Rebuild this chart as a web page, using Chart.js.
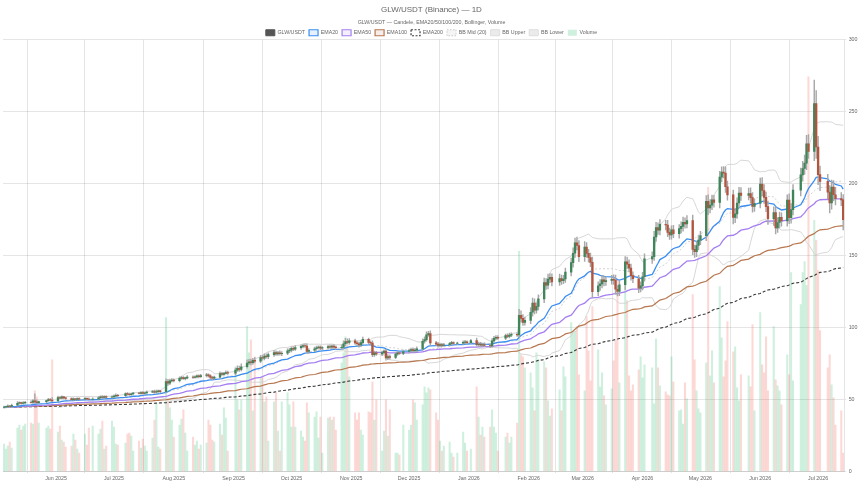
<!DOCTYPE html>
<html>
<head>
<meta charset="utf-8">
<title>GLW/USDT (Binance) — 1D</title>
<script src="https://cdn.jsdelivr.net/npm/chart.js@4.4.1/dist/chart.umd.min.js"></script>
<style>
  html, body { margin: 0; padding: 0; background: #fff; }
  #wrap { width: 860px; height: 484px; }
</style>
</head>
<body>
<div id="wrap"><canvas id="grafico" width="860" height="484"></canvas></div>
<script>
/* ============================================================
   DATI — candele giornaliere GLW/USDT (solo giorni di borsa)
   ============================================================ */
const START_DATE = '2025-05-05';
const END_DATE   = '2026-07-14';
const HOLIDAYS = [
  '2025-05-26','2025-06-19','2025-07-04','2025-09-01','2025-11-27','2025-12-25',
  '2026-01-01','2026-01-19','2026-02-16','2026-04-03','2026-05-25','2026-06-19','2026-07-03'
];
const MONTHS = ['Jan','Feb','Mar','Apr','May','Jun','Jul','Aug','Sep','Oct','Nov','Dec'];
const FIRST_OPEN = 44.3;

// chiusure, una riga per settimana (lun-ven)
const closes = [
  44.6, 44.9, 45.3, 45.0, 45.8,   47.2, 47.6, 47.1, 47.5, 47.9,   47.8, 48.9, 48.2, 47.6, 48.3,
  49.0, 49.8, 49.4, 48.9,         51.2, 50.8, 51.6, 50.9, 50.5,   49.7, 50.3, 49.8, 50.4, 50.1,
  50.6, 50.2, 49.9, 50.1,         51.0, 51.6, 51.2, 51.9, 51.4,   51.7, 52.2, 52.8, 52.4,
  53.9, 53.5, 53.1, 53.8, 54.2,   54.1, 54.6, 54.0, 54.4, 55.0,   55.4, 54.9, 55.3, 55.8, 55.2,
  62.3, 61.2, 62.8, 63.4, 63.0,   64.5, 65.0, 64.3, 64.9, 65.5,   65.2, 65.6, 66.2, 65.7, 66.5,
  66.9, 66.2, 65.1, 64.6, 65.4,   67.8, 67.3, 68.0, 68.6, 68.1,   70.2, 71.5, 70.8, 72.6,
  75.2, 76.0, 75.4, 77.1, 76.5,   79.0, 78.5, 80.1, 79.6, 81.0,   82.5, 81.6, 82.3, 81.7, 82.0,
  83.6, 84.2, 85.4, 84.8, 85.9,   86.8, 87.4, 87.0, 83.2, 84.1,   85.1, 85.8, 86.2, 85.5, 85.9,
  86.7, 86.2, 86.9, 86.3, 85.8,   86.1, 88.6, 90.1, 89.5, 90.6,   89.2, 88.6, 87.7, 89.4, 91.6,
  89.6, 89.1, 81.0, 82.3, 81.5,   82.4, 83.5, 78.8, 79.6, 79.1,   81.4, 82.3, 81.9, 83.2,
  83.9, 84.5, 83.7, 84.2, 85.0,   90.3, 91.5, 94.8, 95.6, 89.2,   88.3, 87.4, 88.0, 87.5, 87.9,
  88.7, 89.4, 88.9, 89.0,         89.6, 90.0, 89.4, 90.8,         87.9, 88.4, 87.6, 88.1, 87.4,
  87.0, 90.6, 92.4, 93.1, 92.5,   94.3, 93.7, 94.6, 95.2,         94.7, 108.4, 106.2, 103.5, 104.8,
  110.5, 116.8, 112.0, 114.6, 119.8,   131.2, 129.4, 133.5, 134.8, 131.6,   134.0, 132.5, 133.6, 138.4,
  145.0, 151.5, 158.8, 156.9, 149.2,   155.8, 151.4, 148.6, 145.2, 124.8,   128.9, 130.2, 133.0, 131.8, 132.6,
  133.4, 132.8, 126.5, 124.9, 129.6,   145.6, 143.9, 141.2, 136.0, 133.8,   127.2, 128.8, 135.2, 147.6,
  149.2, 162.8, 169.4, 167.5, 171.6,   171.2, 166.0, 164.3, 167.8, 165.2,   168.6, 170.2, 173.1, 172.0, 174.3,
  154.2, 152.6, 156.9, 160.7, 163.8,   187.6, 183.1, 185.0, 188.6, 186.9,   204.5, 208.0, 207.2, 197.8, 192.1,
  176.4, 178.9, 186.5, 193.4, 191.8,   193.0, 190.2, 184.1, 186.2,          199.6, 195.2, 190.4, 184.0, 175.5,
  179.8, 169.2, 172.9, 176.5, 174.0,   188.5, 176.3, 181.8, 195.4,          206.0, 210.5, 214.2, 227.6, 222.4,
  255.6, 225.4, 206.2, 201.5,          194.0, 186.6, 197.6, 192.2, 189.5,   188.6, 174.8
];

// ombra superiore (sopra il corpo)
const wickUp = [
  0.6, 0.4, 0.8, 0.5, 0.9,   1.1, 0.6, 0.5, 0.8, 0.6,   1.0, 0.9, 4.8, 1.2, 0.5,
  0.5, 0.9, 0.6, 1.8,        1.0, 0.6, 0.8, 0.5, 0.4,   0.5, 0.7, 0.4, 0.6, 0.5,
  0.6, 0.4, 0.7, 0.9,        0.8, 0.7, 0.9, 0.5, 0.4,   0.6, 0.8, 1.0, 0.7,
  0.6, 0.8, 0.7, 0.5, 0.6,   0.6, 0.5, 0.7, 0.4, 0.6,   0.8, 0.9, 1.1, 0.6, 0.4,
  1.9, 1.6, 1.2, 1.0, 0.8,   1.1, 0.9, 0.7, 0.6, 1.0,   0.7, 0.6, 0.8, 0.7, 0.9,
  1.1, 0.8, 1.0, 0.9, 0.7,   1.2, 0.9, 0.8, 1.2, 1.0,   1.4, 1.8, 1.5, 2.0,
  2.2, 1.8, 2.0, 1.4, 1.9,   1.6, 1.7, 1.4, 1.5, 1.2,   1.4, 1.2, 1.0, 1.4, 1.1,
  1.5, 1.2, 1.1, 1.3, 1.5,   1.0, 0.9, 1.1, 1.6, 1.2,   1.1, 1.2, 0.9, 1.0, 0.8,
  1.0, 1.2, 1.0, 1.1, 0.9,   1.8, 2.0, 2.2, 1.9, 1.6,   1.3, 1.0, 1.2, 1.4, 1.6,
  0.9, 1.1, 1.6, 1.2, 1.0,   1.1, 0.9, 1.2, 1.5, 1.3,   0.9, 0.8, 0.7, 1.0,
  1.0, 1.1, 1.3, 1.2, 1.4,   1.8, 1.9, 2.0, 1.6, 1.9,   1.1, 1.2, 1.0, 0.8, 0.9,
  0.9, 0.8, 0.6, 0.7,        1.0, 0.9, 0.7, 0.9,        1.8, 1.4, 1.2, 1.0, 1.1,
  1.2, 1.6, 1.4, 1.2, 1.1,   1.0, 1.2, 1.4, 1.0,        1.1, 4.2, 3.0, 2.6, 2.4,
  3.2, 3.6, 3.0, 2.4, 2.8,   3.0, 2.8, 3.6, 2.6, 2.4,   3.0, 2.4, 2.6, 2.8,
  3.2, 3.8, 3.2, 4.0, 3.4,   3.8, 3.2, 2.8, 3.0, 3.6,   2.8, 3.0, 3.2, 2.8, 2.6,
  2.8, 3.2, 3.6, 2.6, 2.8,   3.6, 3.2, 3.0, 2.8, 2.6,   2.4, 2.8, 3.0, 3.6,
  3.4, 4.0, 3.6, 3.2, 3.4,   2.8, 3.2, 3.0, 2.8, 3.2,   2.8, 3.2, 3.6, 3.0, 3.4,
  3.8, 3.0, 2.8, 3.2, 3.0,   4.0, 4.6, 3.8, 3.4, 3.2,   4.0, 3.6, 3.8, 4.4, 4.0,
  3.4, 3.8, 3.6, 4.0, 3.8,   3.8, 4.0, 3.6, 3.2,        4.2, 4.6, 4.0, 3.6, 3.8,
  4.0, 3.8, 3.4, 3.6, 3.2,   3.6, 4.4, 4.2, 3.8,        4.8, 5.0, 5.6, 6.0, 6.4,
  16.4, 9.0, 7.5, 6.0,       5.0, 4.6, 4.8, 4.4, 5.2,   4.2, 3.8
];

// ombra inferiore (sotto il corpo)
const wickDown = [
  0.5, 0.7, 0.4, 0.8, 0.6,   0.4, 0.7, 0.6, 0.5, 0.4,   0.5, 0.7, 0.6, 0.9, 0.5,
  0.6, 0.4, 0.8, 0.6,        0.4, 0.6, 0.5, 0.7, 0.6,   0.6, 0.5, 0.7, 0.6, 0.4,
  0.6, 0.5, 0.4, 0.5,        0.6, 0.5, 0.4, 0.6, 0.5,   0.6, 0.5, 0.7, 0.6,
  0.7, 0.6, 0.5, 0.4, 0.6,   0.4, 0.6, 0.5, 0.7, 0.4,   0.5, 0.7, 0.6, 0.5, 0.7,
  0.8, 1.6, 1.0, 0.8, 0.9,   1.0, 0.8, 0.6, 0.9, 0.7,   0.8, 0.6, 0.7, 0.9, 0.6,
  0.9, 0.8, 1.0, 1.2, 0.7,   0.9, 0.7, 0.8, 0.6, 0.9,   1.2, 0.9, 1.4, 1.1,
  1.0, 1.2, 1.5, 1.1, 1.2,   1.1, 1.3, 1.2, 1.0, 1.4,   1.3, 1.1, 1.2, 1.0, 1.4,
  1.0, 1.2, 1.3, 1.1, 0.9,   1.2, 1.1, 0.9, 1.4, 1.3,   1.0, 1.2, 0.8, 1.1, 0.9,
  1.1, 0.9, 1.0, 0.9, 1.2,   1.3, 1.2, 1.4, 1.0, 1.2,   1.0, 1.2, 1.4, 1.1, 1.0,
  1.1, 1.0, 1.4, 1.2, 1.1,   1.2, 1.1, 1.6, 1.2, 1.3,   0.9, 1.0, 0.8, 0.9,
  0.9, 1.0, 1.2, 0.9, 1.1,   1.1, 1.3, 1.2, 1.0, 1.8,   1.0, 1.1, 0.9, 1.0, 0.8,
  0.9, 0.7, 0.8, 0.7,        0.8, 0.7, 0.9, 0.7,        1.0, 1.2, 0.9, 1.0, 0.8,
  1.2, 0.9, 1.0, 1.1, 0.9,   1.0, 0.9, 1.1, 1.0,        1.0, 1.6, 2.4, 2.2, 2.0,
  2.2, 2.8, 2.6, 2.2, 2.4,   2.6, 3.0, 2.6, 2.4, 2.8,   2.4, 2.6, 2.2, 2.4,
  2.6, 3.2, 2.8, 3.0, 3.6,   3.4, 2.8, 3.2, 3.0, 4.2,   2.8, 3.2, 2.8, 3.0, 2.6,
  2.6, 3.0, 3.4, 3.0, 2.8,   3.4, 3.0, 2.6, 3.2, 2.8,   3.0, 2.6, 2.8, 3.0,
  3.2, 2.6, 3.0, 2.8, 3.2,   3.4, 3.0, 3.2, 3.0, 2.8,   3.2, 3.0, 3.4, 3.0, 2.8,
  3.6, 4.0, 3.4, 3.0, 3.2,   3.6, 4.8, 3.6, 3.2, 3.4,   3.8, 3.4, 3.2, 4.0, 3.6,
  4.4, 3.6, 3.2, 3.4, 3.6,   3.2, 3.8, 4.0, 3.4,        3.2, 3.8, 4.2, 3.6, 4.0,
  4.6, 4.2, 3.2, 3.8, 3.6,   3.6, 4.2, 3.8, 3.6,        4.0, 4.4, 4.2, 4.6, 5.0,
  6.4, 8.0, 7.0, 6.4,        4.6, 7.0, 4.4, 4.2, 4.4,   4.0, 7.0
];

// volume giornaliero (migliaia)
const volumes = [
  27, 22, 25, 29, 23,    43, 46, 41, 45, 47,    48, 47, 80, 74, 48,
  43, 45, 42, 111,       39, 45, 31, 29, 24,    25, 37, 31, 22, 18,
  37, 26, 43, 45,        37, 42, 50, 22, 25,    50, 44, 27, 26,
  28, 37, 38, 35, 20,    30, 23, 32, 25, 20,    33, 51, 68, 24, 22,
  153, 71, 63, 51, 34,   46, 52, 61, 38, 20,    34, 26, 30, 22, 26,
  28, 51, 46, 31, 29,    47, 36, 63, 53, 20,    104, 71, 61, 71,
  144, 118, 131, 60, 114,  93, 93, 69, 74, 30,  69, 78, 40, 20, 69,
  78, 66, 44, 69, 44,    40, 34, 30, 68, 58,    54, 59, 33, 54, 18,
  53, 54, 51, 54, 41,    108, 118, 134, 126, 94,  58, 51, 58, 41, 36,
  59, 58, 89, 51, 71,    20, 40, 71, 35, 61,    18, 18, 16, 46,
  41, 46, 71, 68, 51,    66, 84, 78, 83, 81,    58, 51, 30, 20, 25,
  29, 18, 14, 18,        39, 28, 20, 22,        84, 54, 36, 44, 34,
  44, 61, 44, 38, 20,    34, 38, 28, 34,        48, 219, 116, 114, 103,
  98, 83, 60, 118, 111,  109, 103, 70, 55, 62,  81, 60, 104, 94,
  148, 138, 139, 144, 96,  80, 154, 120, 90, 164,  121, 84, 98, 75, 66,
  82, 110, 130, 191, 88,   191, 170, 95, 80, 86,   101, 114, 93, 106,
  103, 67, 132, 103, 85,   79, 76, 75, 114, 89,    60, 61, 47, 88, 72,
  176, 111, 80, 62, 58,    108, 283, 95, 120, 88,  184, 133, 94, 110, 149,
  119, 124, 83, 70, 96,    95, 84, 146, 60,        158, 106, 98, 134, 80,
  144, 91, 85, 80, 66,     116, 96, 198, 90,       166, 198, 209, 185, 393,
  250, 230, 200, 140,      103, 116, 86, 73, 46,   60, 18
];

/* ============================================================
   CALENDARIO E INDICATORI
   ============================================================ */
const days = [];
for (let d = new Date(START_DATE + 'T00:00:00Z'); d <= new Date(END_DATE + 'T00:00:00Z'); d.setUTCDate(d.getUTCDate() + 1)) {
  days.push(d.toISOString().slice(0, 10));
}
const tradingDays = days.filter(d => {
  const wd = new Date(d + 'T00:00:00Z').getUTCDay();
  return wd !== 0 && wd !== 6 && !HOLIDAYS.includes(d);
});
const pos = tradingDays.map(d => days.indexOf(d));
const monthStarts = days.map((d, i) => d.endsWith('-01') ? i : -1).filter(i => i >= 0);

// porta una serie dei giorni di borsa sull'asse di calendario
function spread(arr) {
  const out = days.map(() => null);
  arr.forEach((v, k) => { out[pos[k]] = v; });
  return out;
}

function ema(values, n) {
  const k = 2 / (n + 1);
  const out = [];
  values.forEach((v, i) => out.push(i === 0 ? v : v * k + out[i - 1] * (1 - k)));
  return out;
}

function bollinger(values, n, mult) {
  const mid = [], up = [], low = [];
  values.forEach((_, i) => {
    if (i < n - 1) { mid.push(null); up.push(null); low.push(null); return; }
    const win = values.slice(i - n + 1, i + 1);
    const m = win.reduce((a, b) => a + b, 0) / n;
    const sd = Math.sqrt(win.reduce((a, b) => a + (b - m) * (b - m), 0) / n);
    mid.push(m); up.push(m + mult * sd); low.push(m - mult * sd);
  });
  return { mid, up, low };
}

const opens = closes.map((c, i) => i === 0 ? FIRST_OPEN : closes[i - 1]);
const isUp  = closes.map((c, i) => c >= opens[i]);
const bodies = spread(closes.map((c, i) => [opens[i], c]));
const wicks  = spread(closes.map((c, i) => [Math.min(opens[i], c) - wickDown[i], Math.max(opens[i], c) + wickUp[i]]));
const bodyColors = spread(isUp.map(u => u ? '#3f855a' : '#b2553f'));
const volColors  = spread(isUp.map(u => u ? 'rgba(38,186,104,0.22)' : 'rgba(240,80,70,0.22)'));

const bb = bollinger(closes, 20, 2);

/* ============================================================
   GRAFICO
   ============================================================ */
// la legenda di Chart.js lascia troppo spazio sotto: lo accorcio
const legendGap = {
  id: 'legendGap',
  beforeInit(chart) {
    const fit = chart.legend.fit;
    chart.legend.fit = function () { fit.bind(chart.legend)(); this.height -= 6; };
  }
};

function buildLegend(chart) {
  return chart.data.datasets
    .map((ds, i) => ({ ds, i }))
    .filter(o => o.ds.legend)
    .map(o => ({
      text: o.ds.label,
      fillStyle: o.ds.legend.fill,
      strokeStyle: o.ds.legend.stroke,
      lineWidth: o.ds.legend.width || 1,
      lineDash: o.ds.legend.dash || [],
      hidden: false,
      datasetIndex: o.i,
      fontColor: '#666'
    }));
}

const lineBase = { type: 'line', pointRadius: 0, pointHoverRadius: 0, tension: 0, fill: false, spanGaps: true, yAxisID: 'y' };

new Chart(document.getElementById('grafico'), {
  type: 'bar',
  data: {
    labels: days,
    datasets: [
      {
        label: 'GLW/USDT', data: bodies, grouped: false, barThickness: 1.7, order: 0, yAxisID: 'y',
        backgroundColor: bodyColors,
        legend: { fill: '#555555', stroke: '#555555' }
      },
      { label: 'wick', data: wicks, grouped: false, barThickness: 0.8, order: 1, yAxisID: 'y', backgroundColor: '#a8a8a8' },
      { ...lineBase, label: 'EMA20',  data: spread(ema(closes, 20)),  borderColor: '#3a8ef2', borderWidth: 1.3, order: 2,
        legend: { fill: 'rgba(58,142,242,0.12)', stroke: '#3a8ef2', width: 1.2 } },
      { ...lineBase, label: 'EMA50',  data: spread(ema(closes, 50)),  borderColor: '#a57ff1', borderWidth: 1.3, order: 3,
        legend: { fill: 'rgba(165,127,241,0.12)', stroke: '#a57ff1', width: 1.2 } },
      { ...lineBase, label: 'EMA100', data: spread(ema(closes, 100)), borderColor: '#b7774f', borderWidth: 1.2, order: 4,
        legend: { fill: 'rgba(183,119,79,0.12)', stroke: '#b7774f', width: 1.2 } },
      { ...lineBase, label: 'EMA200', data: spread(ema(closes, 200)), borderColor: '#3a3a3a', borderWidth: 1.1, borderDash: [3, 2], order: 5,
        legend: { fill: 'rgba(255,255,255,0)', stroke: '#3a3a3a', width: 1.2, dash: [2, 1.5] } },
      { ...lineBase, label: 'BB Mid (20)', data: spread(bb.mid), borderColor: '#c6c6c6', borderWidth: 0.8, borderDash: [2, 2], order: 6,
        legend: { fill: 'rgba(0,0,0,0.04)', stroke: '#c6c6c6', width: 1, dash: [1.5, 1.5] } },
      { ...lineBase, label: 'BB Upper', data: spread(bb.up), borderColor: '#d3d3d3', borderWidth: 0.9, order: 7,
        legend: { fill: 'rgba(0,0,0,0.08)', stroke: '#dddddd', width: 1 } },
      { ...lineBase, label: 'BB Lower', data: spread(bb.low), borderColor: '#d3d3d3', borderWidth: 0.9, order: 8,
        legend: { fill: 'rgba(0,0,0,0.08)', stroke: '#dddddd', width: 1 } },
      {
        label: 'Volume', data: spread(volumes), grouped: false, barThickness: 1.4, order: 10, yAxisID: 'y1',
        backgroundColor: volColors,
        legend: { fill: 'rgba(38,186,104,0.22)', stroke: 'rgba(38,186,104,0)', width: 0 }
      }
    ]
  },
  options: {
    responsive: false,
    animation: false,
    events: [],
    layout: { padding: { left: 3, right: 0, top: 0, bottom: 0.5 } },
    plugins: {
      title: {
        display: true, text: 'GLW/USDT (Binance) — 1D', color: '#666',
        font: { size: 8, weight: 'normal' }, padding: { top: 4.6, bottom: 2.6 }
      },
      subtitle: {
        display: true, text: 'GLW/USDT — Candele, EMA20/50/100/200, Bollinger, Volume', color: '#666',
        font: { size: 5.3 }, padding: { top: 2.2, bottom: 0.4 }
      },
      legend: {
        labels: { boxWidth: 9, boxHeight: 6, padding: 4, color: '#666', font: { size: 5.3 }, generateLabels: buildLegend }
      },
      tooltip: { enabled: false }
    },
    scales: {
      x: {
        type: 'category', offset: true,
        grid: { offset: true, tickLength: 2 },
        ticks: {
          autoSkip: false, maxRotation: 0, padding: 2, color: '#666', font: { size: 5.3 },
          callback(value) {
            const d = this.getLabelForValue(value);
            return MONTHS[+d.slice(5, 7) - 1] + ' ' + d.slice(0, 4);
          }
        },
        afterBuildTicks: scale => { scale.ticks = monthStarts.map(v => ({ value: v })); }
      },
      y: {
        position: 'right', min: 0, max: 300,
        grid: { tickLength: 2 },
        ticks: { stepSize: 50, padding: 2.5, color: '#666', font: { size: 5.3 } }
      },
      y1: { display: false, min: 0, max: 430 }
    }
  },
  plugins: [legendGap]
});
</script>
</body>
</html>
